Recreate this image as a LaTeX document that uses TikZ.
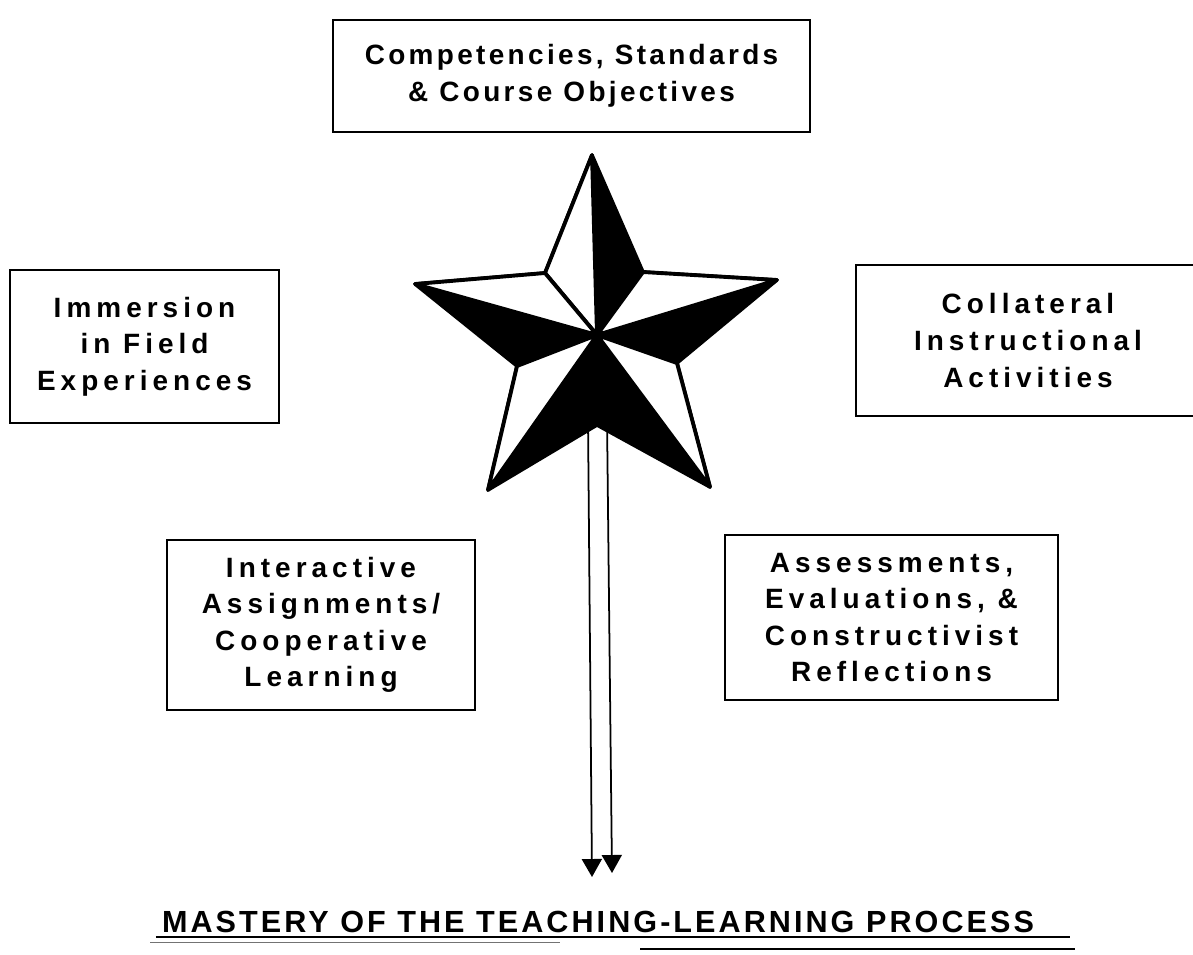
\documentclass[tikz,border=0pt]{standalone}
\usepackage{fontspec}
\usepackage{tikz}
\usetikzlibrary{positioning,arrows.meta}
\newfontfamily\boxfont[LetterSpace=18]{Liberation Sans}
\newfontfamily\headfont[LetterSpace=12]{Liberation Sans}
\newfontfamily\titlefont[LetterSpace=10]{Liberation Sans}

\begin{document}
\begin{tikzpicture}[
          x=0.02cm, y=-0.02cm,
          every node/.style={font=\boxfont\bfseries\fontsize{15.9pt}{20.8pt}\selectfont},
          topic/.style={draw, line width=1.2pt, align=center, inner sep=0pt},
          facet/.style={fill=white, draw=black, line width=2.2pt, line join=round},
          flow/.style={line width=1pt, -{Triangle[length=0.36cm, width=0.4cm]}}
      ]
        \useasboundingbox (0,0) rectangle (1193,954);

        \node[topic, minimum width=9.54cm, minimum height=2.24cm, font=\headfont\bfseries\fontsize{15.9pt}{20.8pt}\selectfont] (comp) at (571.5,76) {Competencies, Standards\\\& Course Objectives};
        \node[topic, minimum width=5.38cm, minimum height=3.06cm] (field) at (144.5,346.5) {Immersion\\in Field\\Experiences};
        \node[topic, minimum width=6.88cm, minimum height=3.02cm] (collat) at (1028,340.5) {Collateral\\Instructional\\Activities};
        \node[topic, minimum width=6.16cm, minimum height=3.40cm] (inter) at (321,625) {Interactive\\Assignments/\\Cooperative\\Learning};
        \node[topic, minimum width=6.66cm, minimum height=3.30cm] (assess) at (891.5,617.5) {Assessments,\\Evaluations, \&\\Constructivist\\Reflections};

        \node[anchor=base, font=\titlefont\bfseries\fontsize{17.4pt}{20pt}\selectfont] (mastery) at (598,932) {MASTERY OF THE TEACHING-LEARNING PROCESS};
        \draw[line width=1.2pt] (mastery.base west |- 0,937) -- (1070,937);
        \draw[line width=0.4pt, black!55] (150,942) -- (560,942);
        \draw[line width=1pt] (640,949) -- (1075,949);

        \coordinate (c) at (597,335);
        \coordinate (t1) at (592,155);
        \coordinate (i1) at (643,272);
        \coordinate (t2) at (777,280);
        \coordinate (i2) at (677,363);
        \coordinate (t3) at (710,487);
        \coordinate (i3) at (597,425);
        \coordinate (t4) at (488,490);
        \coordinate (i4) at (517,366);
        \coordinate (t5) at (415,284);
        \coordinate (i5) at (545,273);

        \coordinate (outL) at (588,420);
        \coordinate (outR) at (607,418);
        \coordinate (endL) at (592,877);
        \coordinate (endR) at (612,873);
        \draw[flow] (outL) -- (endL);
        \draw[flow] (outR) -- (endR);

        \filldraw[line width=2pt, line join=round] (t1) -- (i1) -- (t2) -- (i2) -- (t3) -- (i3) -- (t4) -- (i4) -- (t5) -- (i5) -- cycle;
        \draw[facet] (c) -- (i5) -- (t1) -- cycle;
        \draw[facet] (c) -- (t5) -- (i5) -- cycle;
        \draw[facet] (c) -- (i1) -- (t2) -- cycle;
        \draw[facet] (c) -- (t3) -- (i2) -- cycle;
        \draw[facet] (c) -- (i4) -- (t4) -- cycle;
      \end{tikzpicture}
\end{document}
